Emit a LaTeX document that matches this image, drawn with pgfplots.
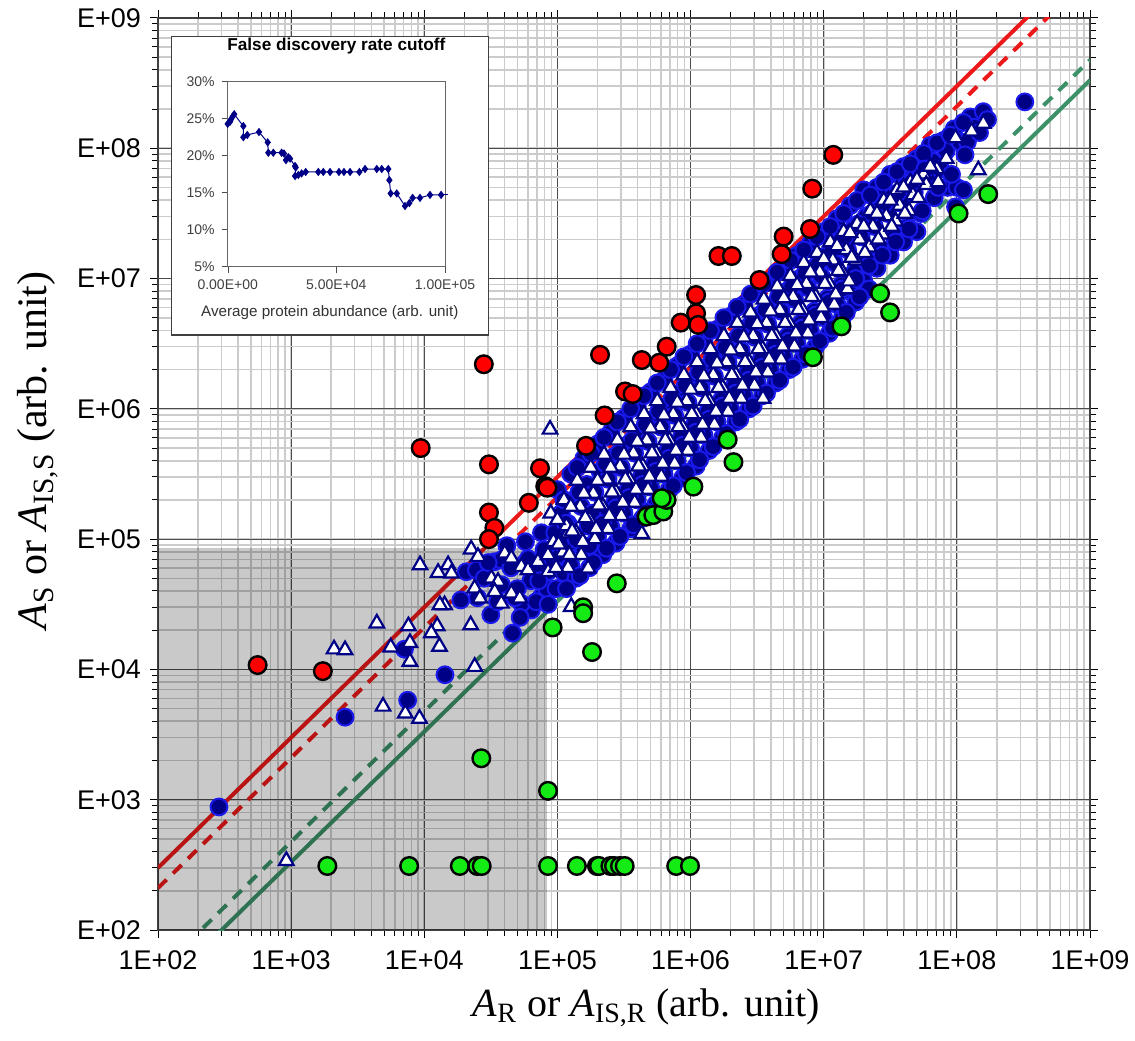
\documentclass[border=0pt]{standalone}
\usepackage{fontspec}
\setmainfont{Liberation Sans}
\newfontfamily\labelfont{Liberation Serif}
\usepackage{pgfplots}
\pgfplotsset{compat=1.18}
\definecolor{cutred}{RGB}{235,25,25}
\definecolor{cutgreen}{RGB}{60,145,105}
\definecolor{ptnavy}{RGB}{0,0,135}
\definecolor{ptedge}{RGB}{25,25,235}
\definecolor{ptred}{RGB}{255,0,0}
\definecolor{ptgreen}{RGB}{20,235,20}

\begin{document}
\begin{tikzpicture}
\useasboundingbox (-79pt,-55pt) rectangle (488.5pt,465pt);
\begin{axis}[
  name=main, at={(0,0)}, anchor=south west,
  scale only axis, width=466pt, height=456pt,
  xmode=log, ymode=log,
  xmin=1e2, xmax=1e9, ymin=1e2, ymax=1e9,
  xtick={1e2,1e3,1e4,1e5,1e6,1e7,1e8,1e9},
  ytick={1e2,1e3,1e4,1e5,1e6,1e7,1e8,1e9},
  xticklabels={1E+02,1E+03,1E+04,1E+05,1E+06,1E+07,1E+08,1E+09},
  yticklabels={E+02,E+03,E+04,E+05,E+06,E+07,E+08,E+09},
  xticklabel style={font=\fontsize{13.5}{15}\selectfont, yshift=-3pt},
  yticklabel style={font=\fontsize{13.5}{15}\selectfont, xshift=-1pt},
  tick align=outside, major tick length=4pt, minor tick length=3pt,
  tick style={black, line width=0.5pt},
  grid=both,
  major grid style={draw=black!70, line width=0.6pt},
  minor grid style={draw=black!20, line width=0.8pt},
  axis line style={black!75, line width=0.7pt},
  xlabel={\textit{A}\textsubscript{R} or \textit{A}\textsubscript{IS,R} (arb. unit)},
  ylabel={\textit{A}\textsubscript{S} or \textit{A}\textsubscript{IS,S} (arb. unit)},
  xlabel style={font=\labelfont\fontsize{20}{24}\selectfont, at={(axis description cs:0.524,-0.085)}, anchor=center},
  ylabel style={font=\labelfont\fontsize{21}{24}\selectfont, at={(axis description cs:-0.129,0.526)}, anchor=center},
]
% cutoff lines
\addplot[cutred, line width=2pt] coordinates {(1e2,3.0e2) (1e9,3.0e9)};
\addplot[cutred, line width=2pt, dash pattern=on 6pt off 4.5pt] coordinates {(1e2,2.1e2) (1e9,2.1e9)};
\addplot[cutgreen, line width=2pt, dash pattern=on 6pt off 4.5pt] coordinates {(1e2,47.6) (1e9,4.76e8)};
\addplot[cutgreen, line width=2pt] coordinates {(1e2,33.3) (1e9,3.33e8)};

% blue circles
\addplot[only marks, mark=*, mark size=4.2pt, mark options={fill=ptnavy, draw=ptedge, line width=1pt}] coordinates {
(2.87e2,8.8e2) (2.54e3,4.3e3) (7.5e3,5.8e3) (7.1e3,1.43e4) (1.43e4,9.1e3) (4.6e4,1.9e4)
(2.07e4,5.62e4) (2.46e4,5.79e4) (1.88e4,3.41e4) (3.38e4,6.71e4) (3.79e4,6.92e4) (5.68e4,6.52e4)
(6.37e4,2.86e4) (5.36e4,3.21e4) (7.57e4,3.61e4) (1.27e5,5.79e4) (8.49e4,5.62e4) (1.17e5,8.26e4)
(2.82e4,5.01e4) (3.16e4,2.63e4) (3.80e4,4.47e4) (4.17e4,8.91e4) (4.79e4,3.55e4) (5.25e4,2.51e4)
(5.75e4,9.55e4) (6.31e4,4.79e4) (6.92e4,3.31e4) (7.59e4,1.12e5) (8.32e4,4.17e4) (8.91e4,7.08e4)
(2.51e4,3.55e4) (7.08e4,6.31e4)
(3.02e4,6.61e4) (3.55e4,3.31e4) (4.47e4,6.03e4) (5.01e4,4.17e4) (6.03e4,7.08e4) (7.94e4,8.32e4)
(7.24e4,4.79e4) (8.51e4,3.16e4)
(1.00e5,2.40e5) (1.07e5,1.58e5) (9.55e4,1.12e5) (1.05e5,7.59e4) (1.12e5,5.50e4) (9.77e4,4.17e4)
(1.26e5,3.16e5) (1.32e5,2.00e5) (1.20e5,1.32e5) (1.35e5,9.55e4) (1.26e5,6.31e4) (1.38e5,5.01e4)
(1.58e5,4.17e5) (1.66e5,2.63e5) (1.51e5,1.78e5) (1.70e5,1.26e5) (1.58e5,8.32e4) (1.74e5,6.03e4)
(2.00e5,5.37e5) (2.09e5,3.31e5) (1.91e5,2.29e5) (2.14e5,1.58e5) (2.00e5,1.05e5) (2.19e5,7.59e4)
(2.51e5,6.61e5) (2.63e5,4.27e5) (2.40e5,2.88e5) (2.69e5,1.91e5) (2.51e5,1.26e5) (2.75e5,9.33e4)
(3.16e5,8.51e5) (3.31e5,5.25e5) (3.02e5,3.55e5) (3.39e5,2.40e5) (3.16e5,1.58e5) (3.55e5,1.20e5)
(3.98e5,1.05e6) (4.17e5,6.61e5) (3.80e5,4.57e5) (4.27e5,3.02e5) (3.98e5,2.00e5) (4.37e5,1.45e5)
(5.01e5,1.35e6) (5.25e5,8.32e5) (4.79e5,5.62e5) (5.37e5,3.80e5) (5.01e5,2.51e5) (5.50e5,1.86e5)
(6.31e5,1.66e6) (6.61e5,1.05e6) (6.03e5,7.24e5) (6.76e5,4.79e5) (6.31e5,3.16e5) (6.92e5,2.40e5)
(7.94e5,2.14e6) (8.32e5,1.32e6) (7.59e5,8.91e5) (8.51e5,6.03e5) (7.94e5,3.98e5) (8.71e5,2.95e5)
(1.00e6,2.63e6) (1.05e6,1.66e6) (9.55e5,1.12e6) (1.07e6,7.59e5) (1.00e6,5.01e5) (1.10e6,3.63e5)
(1.26e6,3.31e6) (1.32e6,2.09e6) (1.20e6,1.45e6) (1.35e6,9.55e5) (1.26e6,6.31e5) (1.38e6,4.79e5)
(1.58e6,4.07e6) (1.66e6,2.63e6) (1.51e6,1.78e6) (1.70e6,1.17e6) (1.58e6,7.94e5) (1.74e6,6.03e5)
(2.00e6,5.13e6) (2.09e6,3.31e6) (1.91e6,2.29e6) (2.14e6,1.51e6) (2.00e6,1.00e6) (2.19e6,7.94e5)
(2.51e6,6.31e6) (2.63e6,4.17e6) (2.40e6,2.82e6) (2.69e6,1.91e6) (2.51e6,1.26e6) (2.75e6,1.00e6)
(3.16e6,7.94e6) (3.31e6,5.25e6) (3.02e6,3.55e6) (3.39e6,2.40e6) (3.16e6,1.58e6) (3.47e6,1.26e6)
(3.98e6,9.55e6) (4.17e6,6.31e6) (3.80e6,4.47e6) (4.27e6,3.02e6) (3.98e6,2.00e6) (4.37e6,1.58e6)
(5.01e6,1.20e7) (5.25e6,7.94e6) (4.79e6,5.62e6) (5.37e6,3.63e6) (5.01e6,2.51e6) (5.50e6,2.00e6)
(6.31e6,1.51e7) (6.61e6,1.00e7) (6.03e6,6.92e6) (6.76e6,4.57e6) (6.31e6,3.16e6) (6.92e6,2.40e6)
(7.94e6,1.86e7) (8.32e6,1.20e7) (7.59e6,8.51e6) (8.51e6,5.62e6) (7.94e6,3.98e6) (8.71e6,3.02e6)
(1.00e7,2.29e7) (1.05e7,1.51e7) (9.55e6,1.05e7) (1.07e7,7.08e6) (1.00e7,5.01e6) (1.10e7,3.80e6)
(1.26e7,2.88e7) (1.32e7,1.91e7) (1.20e7,1.32e7) (1.35e7,8.91e6) (1.26e7,6.31e6) (1.38e7,5.01e6)
(1.58e7,3.63e7) (1.66e7,2.40e7) (1.51e7,1.66e7) (1.70e7,1.12e7) (1.58e7,7.94e6) (1.74e7,6.61e6)
(2.00e7,4.79e7) (2.09e7,3.02e7) (1.91e7,2.09e7) (2.14e7,1.38e7) (2.00e7,9.55e6) (2.19e7,8.32e6)
(2.51e7,5.01e7) (2.63e7,3.55e7) (2.40e7,2.51e7) (2.69e7,1.66e7) (2.51e7,1.20e7)
(3.16e7,6.31e7) (3.31e7,4.37e7) (3.02e7,3.16e7) (3.39e7,2.09e7) (3.16e7,1.51e7)
(3.98e7,7.24e7) (4.17e7,5.25e7) (3.80e7,3.80e7) (4.27e7,2.51e7) (3.98e7,1.91e7)
(5.01e7,8.32e7) (5.25e7,6.31e7) (4.79e7,4.57e7) (5.37e7,3.16e7) (5.01e7,2.29e7)
(6.31e7,1.05e8) (6.61e7,7.94e7) (6.03e7,5.75e7) (6.76e7,4.17e7)
(7.94e7,1.15e8) (8.32e7,9.55e7) (7.59e7,6.92e7) (8.51e7,5.01e7)
(9.55e7,1.41e8) (1.05e8,1.12e8) (1.00e8,5.01e7) (1.12e8,4.79e7) (9.77e7,3.55e7)
(1.26e8,1.74e8) (1.35e8,1.45e8) (1.20e8,1.12e8)
(1.58e8,1.91e8) (1.70e8,1.66e8) (1.48e8,1.32e8)
(3.24e8,2.27e8)
(1.12e5,2.00e5) (1.15e5,1.32e5) (1.10e5,9.12e4) (1.17e5,4.17e4)
(1.41e5,3.55e5) (1.45e5,2.29e5) (1.38e5,1.00e5) (1.48e5,5.25e4)
(1.78e5,4.57e5) (1.82e5,1.58e5) (1.74e5,8.91e4) (1.86e5,6.61e4)
(2.24e5,6.03e5) (2.29e5,3.80e5) (2.19e5,1.32e5) (2.34e5,8.51e4)
(2.82e5,7.94e5) (2.88e5,4.57e5) (2.75e5,1.74e5) (2.95e5,1.05e5)
(3.55e5,1.00e6) (3.63e5,5.75e5) (3.47e5,2.09e5) (3.72e5,1.29e5)
(4.47e5,1.26e6) (4.57e5,7.59e5) (4.37e5,2.63e5) (4.68e5,1.62e5)
(5.62e5,1.58e6) (5.75e5,9.55e5) (5.50e5,3.31e5) (5.89e5,2.04e5)
(7.08e5,2.00e6) (7.24e5,1.20e6) (6.92e5,4.17e5) (7.41e5,2.57e5)
(8.91e5,2.51e6) (9.12e5,1.51e6) (8.71e5,5.25e5) (9.33e5,3.24e5)
(1.12e6,3.16e6) (1.15e6,1.91e6) (1.10e6,6.61e5) (1.17e6,4.07e5)
(1.41e6,3.98e6) (1.45e6,2.40e6) (1.38e6,8.32e5) (1.48e6,5.13e5)
(1.78e6,5.01e6) (1.82e6,2.95e6) (1.74e6,1.05e6) (1.86e6,6.46e5)
(2.24e6,6.03e6) (2.29e6,3.63e6) (2.19e6,1.32e6) (2.34e6,8.32e5)
(2.82e6,7.59e6) (2.88e6,4.57e6) (2.75e6,1.66e6) (2.95e6,1.05e6)
(3.55e6,9.12e6) (3.63e6,5.75e6) (3.47e6,2.09e6) (3.72e6,1.32e6)
(4.47e6,1.12e7) (4.57e6,7.24e6) (4.37e6,2.63e6) (4.68e6,1.66e6)
(5.62e6,1.38e7) (5.75e6,8.71e6) (5.50e6,3.31e6) (5.89e6,2.09e6)
(7.08e6,1.66e7) (7.24e6,1.10e7) (6.92e6,4.17e6) (7.41e6,2.63e6)
(8.91e6,2.09e7) (9.12e6,1.32e7) (8.71e6,5.25e6) (9.33e6,3.31e6)
(1.12e7,2.51e7) (1.15e7,1.66e7) (1.10e7,6.61e6) (1.17e7,4.17e6)
(1.41e7,3.16e7) (1.45e7,2.09e7) (1.38e7,8.32e6) (1.48e7,5.50e6)
(1.78e7,3.98e7) (1.82e7,2.63e7) (1.74e7,1.00e7) (1.86e7,7.24e6)
(2.24e7,4.37e7) (2.29e7,3.16e7) (2.19e7,1.26e7)
(2.82e7,5.50e7) (2.88e7,3.80e7) (2.75e7,1.51e7)
(3.55e7,6.61e7) (3.63e7,4.57e7) (3.47e7,1.91e7)
(4.47e7,7.59e7) (4.57e7,5.50e7) (4.37e7,2.40e7)
(5.62e7,9.12e7) (5.75e7,6.92e7) (5.50e7,3.31e7)
(7.08e7,1.10e8) (7.24e7,5.01e7)
(8.91e7,1.26e8) (9.12e7,6.31e7)
(1.12e8,1.58e8) (1.15e8,8.91e7)
};

% triangles
\addplot[only marks, mark=triangle*, mark size=4.2pt, mark options={fill=white, draw=ptnavy, line width=1.1pt}] coordinates {
(9.2e2,3.4e2) (4.9e3,5.2e3) (7.2e3,4.6e3) (9.2e3,4.2e3) (7.8e3,1.15e4) (7.8e3,1.6e4) (5.6e3,1.48e4)
(4.4e3,2.26e4) (2.1e3,1.43e4) (2.54e3,1.41e4) (7.6e3,2.15e4) (1.25e4,2.15e4) (1.13e4,1.9e4)
(1.3e4,1.5e4) (2.39e4,1.05e4) (2.23e4,2.19e4) (1.42e4,3.12e4) (1.31e4,3.12e4)
(2.25e4,8.36e4) (2.53e4,7.33e4) (1.51e4,6.33e4) (1.27e4,5.53e4) (1.6e4,5.46e4) (9.29e3,6.33e4)
(3.19e4,5.0e4) (3.58e4,4.72e4) (4.02e4,7.78e4) (4.51e4,7.13e4) (5.36e4,6.15e4) (6.01e4,5.8e4)
(7.14e4,6.71e4) (8.49e4,7.55e4) (2.39e4,4.19e4) (2.61e4,3.51e4) (3.38e4,3.95e4) (3.79e4,3.21e4)
(4.51e4,3.84e4) (5.21e4,3.51e4) (1.27e5,3.03e4) (1.2e5,1.11e5)
(8.91e4,1.58e5) (9.33e4,9.55e4) (8.51e4,5.62e4)
(1.12e5,2.00e5) (1.17e5,1.26e5) (1.10e5,7.94e4) (1.20e5,6.03e4)
(1.41e5,2.82e5) (1.48e5,1.78e5) (1.38e5,1.12e5) (1.51e5,7.59e4)
(1.78e5,3.55e5) (1.86e5,2.24e5) (1.74e5,1.41e5) (1.91e5,1.00e5)
(2.24e5,4.47e5) (2.34e5,2.88e5) (2.19e5,1.78e5) (2.40e5,1.20e5)
(2.82e5,5.75e5) (2.95e5,3.63e5) (2.75e5,2.29e5) (3.02e5,1.51e5)
(3.55e5,7.24e5) (3.72e5,4.57e5) (3.47e5,2.88e5) (3.80e5,1.91e5)
(4.47e5,9.12e5) (4.68e5,5.75e5) (4.37e5,3.63e5) (4.79e5,2.40e5)
(5.62e5,1.15e6) (5.89e5,7.24e5) (5.50e5,4.57e5) (6.03e5,3.02e5)
(7.08e5,1.45e6) (7.41e5,9.12e5) (6.92e5,5.75e5) (7.59e5,3.80e5)
(8.91e5,1.82e6) (9.33e5,1.15e6) (8.71e5,7.24e5) (9.55e5,4.79e5)
(1.12e6,2.29e6) (1.17e6,1.45e6) (1.10e6,9.12e5) (1.20e6,6.03e5)
(1.41e6,2.88e6) (1.48e6,1.82e6) (1.38e6,1.15e6) (1.51e6,7.59e5)
(1.78e6,3.63e6) (1.86e6,2.29e6) (1.74e6,1.45e6) (1.91e6,9.55e5)
(2.24e6,4.57e6) (2.34e6,2.88e6) (2.19e6,1.82e6) (2.40e6,1.20e6)
(2.82e6,5.50e6) (2.95e6,3.63e6) (2.75e6,2.29e6) (3.02e6,1.51e6)
(3.55e6,6.92e6) (3.72e6,4.57e6) (3.47e6,2.88e6) (3.80e6,1.91e6)
(4.47e6,8.71e6) (4.68e6,5.75e6) (4.37e6,3.63e6) (4.79e6,2.40e6)
(5.62e6,1.05e7) (5.89e6,7.24e6) (5.50e6,4.57e6) (6.03e6,3.02e6)
(7.08e6,1.32e7) (7.41e6,9.12e6) (6.92e6,5.75e6) (7.59e6,3.80e6)
(8.91e6,1.58e7) (9.33e6,1.12e7) (8.71e6,7.24e6) (9.55e6,5.01e6)
(1.12e7,1.91e7) (1.17e7,1.38e7) (1.10e7,9.12e6) (1.20e7,6.31e6)
(1.41e7,2.29e7) (1.48e7,1.66e7) (1.38e7,1.12e7) (1.51e7,8.32e6)
(1.78e7,2.63e7) (1.86e7,2.00e7) (1.74e7,1.38e7)
(2.24e7,3.31e7) (2.34e7,2.51e7) (2.19e7,1.74e7)
(2.82e7,3.98e7) (2.95e7,3.02e7) (2.75e7,2.19e7)
(3.55e7,4.79e7) (3.72e7,3.63e7) (3.47e7,2.75e7)
(4.47e7,5.50e7) (4.68e7,4.37e7) (4.37e7,3.31e7)
(5.62e7,6.31e7) (5.89e7,5.25e7)
(7.08e7,6.92e7) (7.24e7,5.50e7)
(8.32e7,8.32e7) (9.77e7,1.20e8)
(1.29e8,1.35e8) (1.58e8,1.55e8)
(1.45e8,6.8e7) (3.5e6,1.2e6) (4.3e5,1.1e5) (1.7e5,5.97e4) (8.8e4,6.95e5)
(1.00e5,1.41e5) (1.02e5,9.12e4) (9.77e4,6.03e4)
(1.26e5,1.78e5) (1.29e5,1.15e5) (1.23e5,7.59e4)
(1.58e5,2.24e5) (1.62e5,1.45e5) (1.55e5,9.55e4)
(2.00e5,2.82e5) (2.04e5,1.82e5) (1.95e5,1.20e5)
(2.51e5,3.55e5) (2.57e5,2.29e5) (2.45e5,1.51e5)
(3.16e5,4.47e5) (3.24e5,2.88e5) (3.09e5,1.91e5)
(3.98e5,5.62e5) (4.07e5,3.63e5) (3.89e5,2.40e5)
(5.01e5,7.08e5) (5.13e5,4.57e5) (4.90e5,3.02e5)
(6.31e5,8.91e5) (6.46e5,5.75e5) (6.17e5,3.80e5)
(7.94e5,1.12e6) (8.13e5,7.24e5) (7.76e5,4.79e5)
(1.00e6,1.41e6) (1.02e6,9.12e5) (9.77e5,6.03e5)
(1.26e6,1.78e6) (1.29e6,1.15e6) (1.23e6,7.59e5)
(1.58e6,2.24e6) (1.62e6,1.45e6) (1.55e6,9.55e5)
(2.00e6,2.82e6) (2.04e6,1.82e6) (1.95e6,1.20e6)
(2.51e6,3.55e6) (2.57e6,2.29e6) (2.45e6,1.51e6)
(3.16e6,4.47e6) (3.24e6,2.88e6) (3.09e6,1.91e6)
(3.98e6,5.62e6) (4.07e6,3.63e6) (3.89e6,2.40e6)
(5.01e6,7.08e6) (5.13e6,4.57e6) (4.90e6,3.02e6)
(6.31e6,8.91e6) (6.46e6,5.75e6) (6.17e6,3.80e6)
(7.94e6,1.12e7) (8.13e6,7.24e6) (7.76e6,4.79e6)
(1.00e7,1.41e7) (1.02e7,9.12e6) (9.77e6,6.03e6)
(1.26e7,1.78e7) (1.29e7,1.15e7) (1.23e7,7.59e6)
(1.58e7,2.24e7) (1.62e7,1.45e7) (1.55e7,9.55e6)
(2.00e7,2.51e7) (2.04e7,1.58e7)
(2.51e7,3.16e7) (2.57e7,2.00e7)
(3.16e7,3.98e7) (3.24e7,2.51e7)
(3.98e7,5.01e7) (4.07e7,3.16e7)
(5.01e7,5.75e7) (5.13e7,4.17e7)
(6.31e7,7.24e7)
};

% red circles: above upper cutoff
\addplot[only marks, mark=*, mark size=4.4pt, mark options={fill=ptred, draw=black, line width=1.2pt}] coordinates {
(5.6e2,1.08e4) (1.73e3,9.7e3) (9.4e3,5.0e5) (2.8e4,2.2e6) (3.06e4,3.75e5) (3.06e4,1.6e5)
(3.36e4,1.22e5) (3.06e4,1.0e5) (7.4e4,3.5e5) (8.1e4,2.55e5) (8.4e4,2.48e5) (6.1e4,1.9e5)
(1.64e5,5.2e5) (2.26e5,8.9e5) (2.09e5,2.6e6) (3.22e5,1.36e6) (3.67e5,1.30e6) (4.3e5,2.37e6)
(5.82e5,2.26e6) (6.62e5,3.0e6) (8.43e5,4.59e6) (1.10e6,5.41e6) (1.14e6,4.41e6) (1.10e6,7.48e6)
(3.29e6,9.75e6) (4.83e6,1.54e7) (5.0e6,2.1e7) (7.9e6,2.4e7) (1.62e6,1.49e7) (2.04e6,1.49e7)
(8.2e6,4.9e7) (1.18e7,8.9e7)
};

% green circles: below lower cutoff
\addplot[only marks, mark=*, mark size=4.4pt, mark options={fill=ptgreen, draw=black, line width=1.2pt}] coordinates {
(1.87e3,3.1e2) (7.7e3,3.1e2) (1.85e4,3.1e2) (2.5e4,3.1e2) (2.7e4,3.1e2) (8.5e4,3.1e2)
(1.4e5,3.1e2) (1.98e5,3.1e2) (2.05e5,3.1e2) (2.5e5,3.1e2) (2.66e5,3.1e2) (2.95e5,3.1e2)
(3.2e5,3.1e2) (7.8e5,3.1e2) (9.9e5,3.1e2)
(2.68e4,2.08e3) (8.5e4,1.17e3) (9.2e4,2.1e4) (1.56e5,3.0e4) (1.56e5,2.7e4) (1.82e5,1.36e4)
(2.79e5,4.58e4) (4.68e5,1.49e5) (5.25e5,1.53e5) (6.24e5,1.63e5) (6.61e5,2.0e5) (6.07e5,2.06e5)
(1.05e6,2.53e5) (1.9e6,5.8e5) (2.1e6,3.9e5) (8.3e6,2.49e6) (1.36e7,4.3e6) (2.65e7,7.7e6)
(3.15e7,5.5e6) (1.03e8,3.16e7) (1.72e8,4.45e7)
};

% shaded low-abundance region
\addplot[draw=none, fill=black, fill opacity=0.21] coordinates {(1e2,1e2) (8.4e4,1e2) (8.4e4,8.5e4) (1e2,8.5e4)} -- cycle;
\end{axis}

% inset frame
\draw[black!75, line width=0.7pt, fill=white] (6.85pt,297.5pt) rectangle (165.15pt,446.65pt);

\begin{axis}[
  at={(34.85pt,331.65pt)}, anchor=south west,
  scale only axis, width=108.65pt, height=92.5pt,
  xmin=0, xmax=1e5, ymin=5, ymax=30,
  xtick={0,5e4,1e5}, xticklabels={0.00E+00,5.00E+04,1.00E+05},
  ytick={5,10,15,20,25,30}, yticklabels={5\%,10\%,15\%,20\%,25\%,30\%},
  scaled x ticks=false,
  tick label style={font=\fontsize{7}{8}\selectfont, text=black!75},
  tick align=outside, major tick length=3pt,
  xtick pos=bottom, ytick pos=left,
  tick style={black!70},
  axis line style={black!60, line width=0.5pt},
  clip=false,
  title={False discovery rate cutoff},
  title style={font=\bfseries\fontsize{8.6}{9}\selectfont, at={(axis description cs:0.5,1)}, anchor=center, yshift=12pt},
  xlabel={Average protein abundance (arb. unit)},
  xlabel style={font=\fontsize{7.6}{8}\selectfont, text=black!80, at={(axis description cs:0.47,0)}, anchor=center, yshift=-23pt},
]
\addplot[ptnavy, line width=0.5pt, mark=diamond*, mark size=1.7pt, mark options={fill=ptnavy, draw=ptnavy}] coordinates {
(0,24.3) (1100,24.6) (1500,24.9) (2300,25.3) (3000,25.6) (7200,24.0) (7200,22.5) (9000,22.8)
(14400,23.2) (18400,21.8) (18700,20.4) (21000,20.4) (24800,20.4) (25900,20.3) (26800,19.4)
(27900,19.8) (28700,19.6) (31000,18.6) (31300,18.4) (31000,17.25) (32500,17.4) (34000,17.6)
(35900,17.8) (41700,17.8) (44000,17.8) (47100,17.8) (51200,17.8) (53500,17.8) (56300,17.8)
(60600,17.8) (63200,18.2) (68600,18.2) (70900,18.2) (73900,18.2) (74400,16.7) (75000,14.9)
(77800,14.9) (81600,13.2) (83600,13.6) (85100,14.3) (88500,14.3) (93100,14.7) (98200,14.7)
};
\addplot[ptnavy, line width=0.5pt] coordinates {(98200,14.7) (101500,14.7)};
\end{axis}
\end{tikzpicture}
\end{document}
